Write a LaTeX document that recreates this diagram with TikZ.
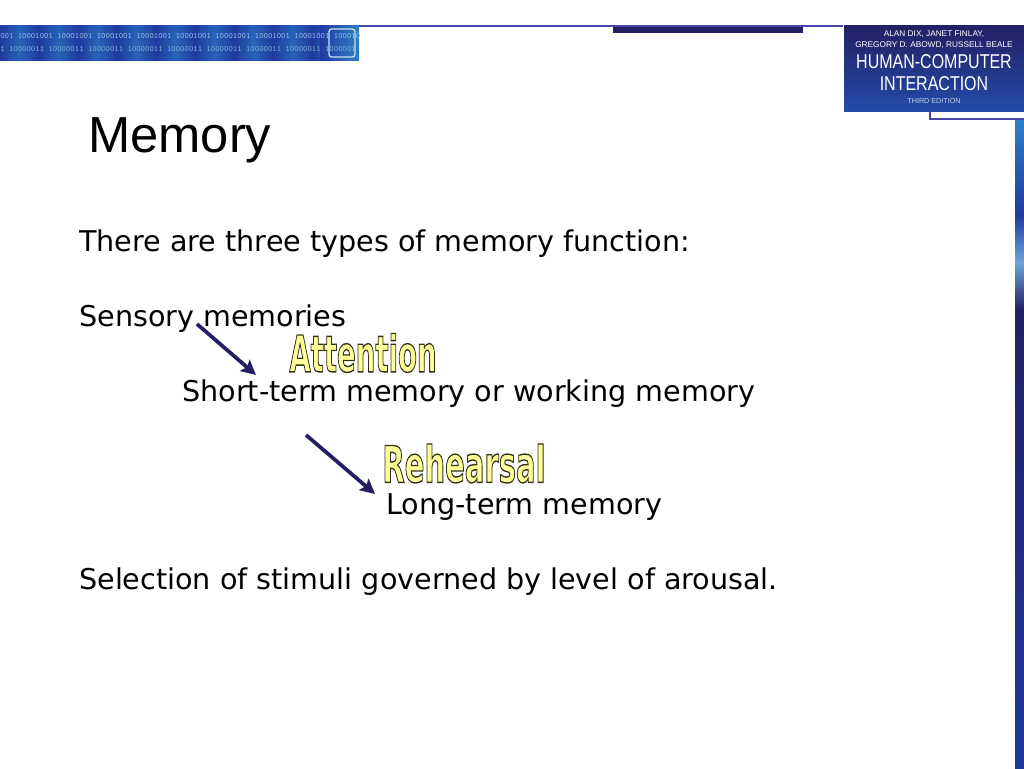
\documentclass[tikz,border=0pt]{standalone}
\usepackage{fontspec}
\setmainfont{DejaVu Sans}
\newfontfamily\titlefont{Liberation Sans}
\usetikzlibrary{arrows.meta}
\definecolor{navy}{HTML}{231F63}
\definecolor{bannerblue}{HTML}{1F3A9E}
\definecolor{bannerlight}{HTML}{2F7FC8}
\definecolor{linepurple}{HTML}{4A45A8}
\definecolor{wordyellow}{HTML}{FFFF99}
\newcommand{\outlined}[1]{\special{pdf:code 0.2 0.2 0.1 RG 0.6 w 2 Tr}#1\special{pdf:code 0 Tr}}
\tikzset{
  bodytext/.style = {anchor=base west, inner sep=0pt, font=\fontsize{21.45}{24}\selectfont, text=black},
  wordart/.style = {anchor=center, inner sep=0pt, transform shape, text=wordyellow,
    font=\bfseries\fontsize{22}{24}\selectfont},
  covertext/.style = {text=white, inner sep=0pt, transform shape, font=\titlefont\fontsize{6.2}{7}\selectfont},
  bitstext/.style = {anchor=west, inner sep=0pt, font=\ttfamily\fontsize{6.2}{7}\selectfont},
  flow/.style = {draw=navy, line width=2.8pt, -{Stealth[length=11pt,width=11pt,inset=2pt]}}
}
\begin{document}
\begin{tikzpicture}[x=0.75pt, y=-0.75pt]
  \useasboundingbox (0,0) rectangle (1024,768);
  % top band and cover
  \fill [navy] (613,26) rectangle (803,33);
  \draw [linepurple, line width=1pt] (359,26) -- (843,26);
  \fill [bannerblue] (0,25) rectangle (359,60);
  \foreach \x in {0,39,...,312}
    \shade [left color=bannerblue, right color=bannerblue, middle color=bannerlight!60!bannerblue] (\x,25) rectangle (\x+39,60);
  \shade [left color=bannerblue, right color=bannerlight] (320,25) rectangle (359,60);
  \begin{scope}
    \clip (0,25) rectangle (359,60);
    \node [bitstext, text=white!50!bannerlight] (bits1) at (0,35.5)
      {001 10001001 10001001 10001001 10001001 10001001 10001001 10001001 10001001 10001001};
    \node [bitstext, text=white!40!bannerlight] (bits2) at (0,49)
      {1 10000011 10000011 10000011 10000011 10000011 10000011 10000011 10000011 1000001};
  \end{scope}
  \draw [white!75!bannerlight, line width=1pt, rounded corners=2pt] (329,29) rectangle (355,57);
  \shade [top color=navy, bottom color=bannerblue!75!bannerlight] (844,25) rectangle (1024,111);
  \node [covertext] (author1) at (934,34.5) {ALAN DIX, JANET FINLAY,};
  \node [covertext] (author2) at (934,45) {GREGORY D. ABOWD, RUSSELL BEALE};
  \node [covertext, xscale=0.8, font=\titlefont\fontsize{15}{16}\selectfont] (book1) at (934,62) {HUMAN-COMPUTER};
  \node [covertext, xscale=0.8, font=\titlefont\fontsize{15}{16}\selectfont] (book2) at (934,83.5) {INTERACTION};
  \node [covertext, text=white!70!bannerlight, font=\titlefont\fontsize{5.4}{6}\selectfont] (edition) at (934,101.5) {THIRD EDITION};
  \draw [linepurple, line width=1pt] (930,110) -- (930,119) -- (1024,119);
  % side bar
  \shade [top color=bannerlight, bottom color=bannerblue] (1015,120) rectangle (1024,215);
  \shade [top color=bannerblue, bottom color=navy, middle color=bannerlight!70!white] (1015,215) rectangle (1024,310);
  \shade [top color=navy, bottom color=bannerblue] (1015,310) rectangle (1024,768);
  % text
  \node [anchor=base west, inner sep=0pt, font=\titlefont\fontsize{38}{40}\selectfont] (title) at (88,152) {Memory};
  \node [bodytext] (intro) at (79,251) {There are three types of memory function:};
  \node [bodytext] (sensory) at (79,326) {Sensory memories};
  \node [bodytext] (short) at (182,401) {Short-term memory or working memory};
  \node [bodytext] (long) at (386,514) {Long-term memory};
  \node [bodytext] (arousal) at (79,589) {Selection of stimuli governed by level of arousal.};
  \node [wordart, xscale=0.94, yscale=1.72] (attention) at (363,353) {\outlined{Attention}};
  \node [wordart, xscale=0.99, yscale=1.72] (rehearsal) at (464,463.5) {\outlined{Rehearsal}};
  % arrows
  \coordinate (a1) at (197,324);
  \coordinate (a2) at (256,375);
  \coordinate (b1) at (306,435);
  \coordinate (b2) at (375,494);
  \draw [flow] (a1) -- (a2);
  \draw [flow] (b1) -- (b2);
\end{tikzpicture}
\end{document}
